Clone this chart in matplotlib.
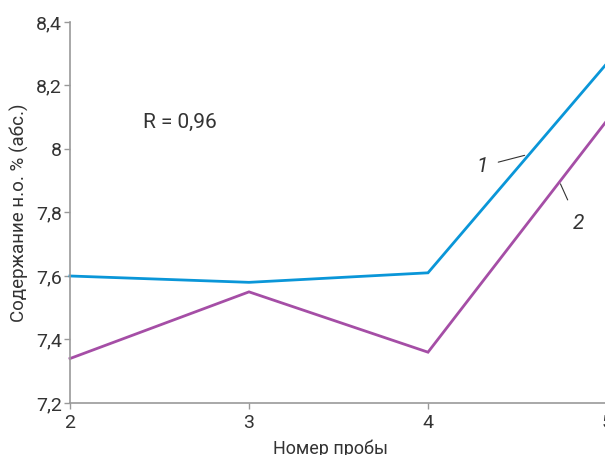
import matplotlib
matplotlib.use("Agg")
import matplotlib.pyplot as plt
from matplotlib.ticker import FuncFormatter, FixedLocator

plt.rcParams['font.family'] = ['Roboto', 'DejaVu Sans']

x = [2, 3, 4, 5]
series1 = [7.60, 7.58, 7.61, 8.27]
series2 = [7.34, 7.55, 7.36, 8.09]
yticks = [7.2, 7.4, 7.6, 7.8, 8.0, 8.2, 8.4]
xticks = [2, 3, 4, 5]

fig = plt.figure(figsize=(6.05, 4.55), dpi=100)
ax = fig.add_axes([0.1157, 0.1143, 0.8876, 0.8374])
ax.plot(x, series1, color='#0a96d8', lw=2.0, solid_joinstyle='miter', clip_on=False)
ax.plot(x, series2, color='#a54ea6', lw=2.0, solid_joinstyle='miter', clip_on=False)

ax.set_xlim(2, 5)
ax.set_ylim(7.2, 8.4)
ax.xaxis.set_major_locator(FixedLocator(xticks))
ax.yaxis.set_major_locator(FixedLocator(yticks))
ax.yaxis.set_major_formatter(FuncFormatter(lambda v, p: ('%g' % round(v, 2)).replace('.', ',')))
for s in ['top', 'right']:
    ax.spines[s].set_visible(False)
for s in ['left', 'bottom']:
    ax.spines[s].set_color('#999999')
    ax.spines[s].set_linewidth(1.2)
ax.tick_params(axis='both', colors='#999999', labelcolor='#333333', labelsize=14, length=4, width=1)
ax.tick_params(axis='x', pad=4)
ax.tick_params(axis='y', pad=2)
ax.set_xlabel('Номер пробы', fontsize=13, color='#333333', labelpad=3)
ax.xaxis.set_label_coords(0.485, -0.095)
ax.set_ylabel('Содержание н.о. % (абс.)', fontsize=13.5, color='#333333', labelpad=5)

ax.text(0.136, 0.737, 'R = 0,96', transform=ax.transAxes, fontsize=15, color='#333333', va='center')

# callouts
ax.annotate('1', xy=(4.54, 7.98), xytext=(4.30, 7.945), fontsize=15, style='italic', color='#333333',
            ha='center', va='center',
            arrowprops=dict(arrowstyle='-', color='#333333', lw=0.8, shrinkA=6, shrinkB=0))
ax.annotate('2', xy=(4.74, 7.89), xytext=(4.84, 7.765), fontsize=15, style='italic', color='#333333',
            ha='center', va='center',
            arrowprops=dict(arrowstyle='-', color='#333333', lw=0.8, shrinkA=9, shrinkB=0))

fig.savefig('out.png', dpi=100)
